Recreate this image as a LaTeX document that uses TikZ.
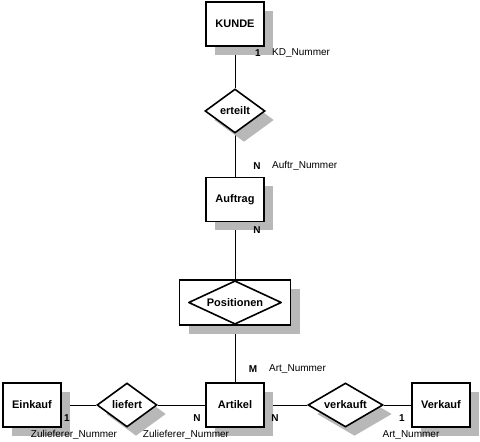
\documentclass[tikz,border=0pt]{standalone}
\usepackage{fontspec}
\setmainfont{Liberation Sans}
\usetikzlibrary{shapes.geometric,shadows,backgrounds}

\tikzset{
  schatten/.style={drop shadow={shadow xshift=9pt,shadow yshift=-9pt,fill=black!28,opacity=1}},
  entitaet/.style={rectangle, draw, line width=1.6pt, fill=white, schatten,
    minimum width=58pt, minimum height=44pt, inner sep=0pt, font=\bfseries\fontsize{11}{13}\selectfont},
  beziehung/.style={diamond, draw, line width=1.6pt, fill=white, schatten, aspect=1.4,
    minimum width=60pt, minimum height=44pt, inner sep=0pt, font=\bfseries\fontsize{11}{13}\selectfont},
  kard/.style={font=\bfseries\fontsize{10}{12}\selectfont, inner sep=0pt},
  attr/.style={font=\fontsize{10}{12}\selectfont, inner sep=0pt},
  kante/.style={line width=0.8pt}
}

\begin{document}
\begin{tikzpicture}[x=1pt,y=1pt]
        \useasboundingbox (0,0) rectangle (480,442);

        % Define the entities
        \node[entitaet] (kunde) at (235,418) {KUNDE};
        \node[entitaet] (auftrag) at (235,242.5) {Auftrag};
        \node[entitaet] (artikel) at (235,37) {Artikel};
        \node[entitaet] (einkauf) at (32,37) {Einkauf};
        \node[entitaet] (verkauf) at (441,37) {Verkauf};

        % Define the relationships
        \node[beziehung] (erteilt) at (235,331) {erteilt};
        \node[beziehung] (liefert) at (127,37) {liefert};
        \node[beziehung, aspect=1.7, minimum width=75pt] (verkauft) at (345.5,37) {verkauft};
        \node[entitaet, minimum width=111pt, minimum height=45pt] (positionen) at (235,139.5) {};
        \node[diamond, draw, line width=1.6pt, line join=round, aspect=2.1, minimum width=93pt,
          minimum height=43.5pt, inner sep=0pt, font=\bfseries\fontsize{11}{13}\selectfont] (posraute) at (235,139.5) {Positionen};

        % Define the edges
        \begin{scope}[on background layer]
        \draw[kante] (kunde) -- (erteilt);
        \draw[kante] (erteilt) -- (auftrag);
        \draw[kante] (auftrag) -- (positionen);
        \draw[kante] (positionen) -- (artikel);
        \draw[kante] (einkauf) -- (liefert);
        \draw[kante] (liefert) -- (artikel);
        \draw[kante] (artikel) -- (verkauft);
        \draw[kante] (verkauft) -- (verkauf);
        \end{scope}

        % Define the cardinalities and keys
        \node[kard] (k1) at (258,389) {1};
        \node[attr, anchor=west] (kdnr) at (272,389) {KD\_Nummer};
        \node[kard] (k2) at (257,276) {N};
        \node[attr, anchor=west] (aunr) at (272,276) {Auftr\_Nummer};
        \node[kard] (k3) at (257,212) {N};
        \node[kard] (k4) at (253,73) {M};
        \node[attr, anchor=west] (artnr) at (269,73) {Art\_Nummer};
        \node[kard] (k5) at (67,24) {1};
        \node[kard] (k6) at (197,24) {N};
        \node[kard] (k7) at (275,24) {N};
        \node[kard] (k8) at (402,24) {1};
        \node[attr] (zunr1) at (74,7) {Zulieferer\_Nummer};
        \node[attr] (zunr2) at (186,7) {Zulieferer\_Nummer};
        \node[attr] (artnr2) at (411,7) {Art\_Nummer};
    \end{tikzpicture}
\end{document}
